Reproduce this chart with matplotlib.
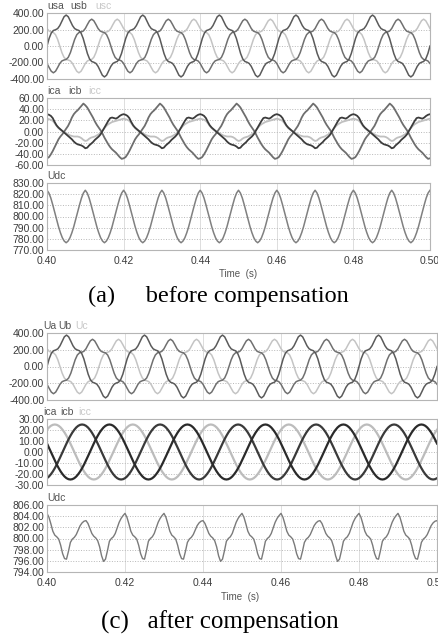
import numpy as np
import matplotlib.pyplot as plt
from matplotlib.ticker import FormatStrFormatter

plt.rcParams['font.family'] = ['Liberation Sans', 'DejaVu Sans']

#------------------------------data------------------------------

# grid voltages, one 20 ms period sampled every 20/36 ms starting at t = 0.40 s
usa_cycle = [0, 92, 157, 188, 197, 211, 247, 302, 354, 375, 354, 302, 247, 211, 197, 188, 157, 92,
             0, -92, -157, -188, -197, -211, -247, -302, -354, -375, -354, -302, -247, -211, -197, -188, -157, -92]
usb_cycle = [-212, -261, -306, -325, -306, -261, -212, -181, -170, -163, -137, -80,
             0, 80, 137, 163, 170, 181, 212, 261, 306, 325, 306, 261, 212, 181, 170, 163, 137, 80,
             0, -80, -137, -163, -170, -181]
usc_cycle = [212, 181, 170, 163, 137, 80, 0, -80, -137, -163, -170, -181, -212, -261, -306, -325, -306, -261,
             -212, -181, -170, -163, -137, -80, 0, 80, 137, 163, 170, 181, 212, 261, 306, 325, 306, 261]

# (a) currents, one 20 ms period every 0.5 ms
ica_a_cycle = [-48, -46, -41, -35, -28, -21, -14, -9, -5, 0, 5, 10, 17, 25, 31, 35, 38, 42, 46, 50,
               47, 43, 37, 31, 25, 18, 12, 7, 2, -4, -11, -17, -23, -28, -32, -35, -38, -42, -46, -49]
icb_a_cycle = [31, 30, 28, 24, 17, 11, 7, 4, 1, -2, -5, -8, -11, -14, -18, -21, -23, -24, -25, -27,
               -30, -29, -25, -22, -19, -15, -12, -9, -5, 1, 7, 13, 19, 24, 25, 24, 23, 25, 28, 30]
icc_a_cycle = [23, 22, 21, 19, 15, 10, 6, 3, 1, -1, -3, -5, -7, -8, -9, -9, -9, -10, -12, -15,
               -17, -16, -13, -11, -10, -9, -7, -5, -2, 2, 6, 10, 13, 15, 17, 18, 19, 20, 21, 22]

# (a) dc link, one 10 ms ripple cycle every 0.5 ms (starts at a peak)
udc_a_cycle = [823.5, 821.0, 816.5, 810.5, 804.0, 797.5, 791.0, 785.5, 781.0, 778.0,
               776.5, 778.0, 781.0, 785.5, 791.0, 797.5, 804.0, 810.5, 816.5, 821.0]

# (c) currents, one 20 ms period every 0.5 ms
ica_c_cycle = [-23.8, -22.3, -20.2, -17.7, -14.7, -11.4, -7.7, -3.9, 0, 3.9, 7.7, 11.4, 14.7, 17.7, 20.2,
               22.3, 23.8, 24.7, 25, 24.7, 23.8, 22.3, 20.2, 17.7, 14.7, 11.4, 7.7, 3.9, 0, -3.9, -7.7,
               -11.4, -14.7, -17.7, -20.2, -22.3, -23.8, -24.7, -25, -24.7]
icb_c_cycle = [7.7, 3.9, 0, -3.9, -7.7, -11.4, -14.7, -17.7, -20.2, -22.3, -23.8, -24.7, -25, -24.7,
               -23.8, -22.3, -20.2, -17.7, -14.7, -11.4, -7.7, -3.9, 0, 3.9, 7.7, 11.4, 14.7, 17.7, 20.2,
               22.3, 23.8, 24.7, 25, 24.7, 23.8, 22.3, 20.2, 17.7, 14.7, 11.4]
icc_c_cycle = [20.2, 22.3, 23.8, 24.7, 25, 24.7, 23.8, 22.3, 20.2, 17.7, 14.7, 11.4, 7.7, 3.9, 0, -3.9,
               -7.7, -11.4, -14.7, -17.7, -20.2, -22.3, -23.8, -24.7, -25, -24.7, -23.8, -22.3, -20.2,
               -17.7, -14.7, -11.4, -7.7, -3.9, 0, 3.9, 7.7, 11.4, 14.7, 17.7]

# (c) dc link, trough-to-trough cycles every 0.5 ms, tall (T) or short (S) peak
udc_c_tall = [796.3, 797.8, 799.5, 800.0, 800.3, 800.9, 801.9, 802.9, 803.6, 804.1,
              804.5, 803.8, 802.6, 801.3, 800.6, 800.3, 799.9, 798.8, 797.3, 796.4]
udc_c_short = [796.3, 797.7, 799.3, 799.9, 800.2, 800.7, 801.5, 802.3, 802.8, 803.1,
               803.2, 802.7, 801.8, 800.9, 800.4, 800.1, 799.6, 798.5, 796.9, 795.9]
udc_c_order = "TSTTSTTSTTS"    # peaks at 0.40, 0.41, ... 0.50

time_ticks = [0.40, 0.42, 0.44, 0.46, 0.48, 0.50]


#------------------------------build the time series------------------------------

def periodic(cycle, period, n):
    vals = np.append(np.tile(cycle, n), cycle[0])
    t = 0.40 + np.arange(len(vals)) * period / len(cycle)
    return t, vals

udc_c = []
for ch in udc_c_order:
    udc_c += udc_c_tall if ch == 'T' else udc_c_short
udc_c.append(udc_c_tall[0])
t_udc_c = 0.395 + np.arange(len(udc_c)) * 0.0005


#------------------------------plotting------------------------------

fig = plt.figure(figsize=(4.39, 6.37), dpi=100)
H = 637.0
W = 439.0

def make_ax(x0, x1, y0, y1):
    return fig.add_axes([x0 / W, 1 - y1 / H, (x1 - x0) / W, (y1 - y0) / H])

def style(ax, yticks, xlabels=False):
    ax.set_xlim(0.40, 0.50)
    ax.set_ylim(yticks[0], yticks[-1])
    ax.set_yticks(yticks)
    ax.set_xticks(time_ticks)
    ax.yaxis.set_major_formatter(FormatStrFormatter('%.2f'))
    ax.xaxis.set_major_formatter(FormatStrFormatter('%.2f'))
    ax.tick_params(length=0, labelsize=7.5, labelcolor='#3c3c3c', pad=2)
    ax.tick_params(axis='x', pad=4)
    if not xlabels:
        ax.tick_params(labelbottom=False)
    ax.grid(axis='y', ls=':', color='#b8b8b8', lw=0.7)
    ax.grid(axis='x', ls='-', color='#d8d8d8', lw=0.6)
    ax.set_axisbelow(True)
    for s in ax.spines.values():
        s.set_color('#b5b5b5')
        s.set_linewidth(0.8)

def names(ax, labels, colors, offsets):
    for lab, c, dx in zip(labels, colors, offsets):
        ax.annotate(lab, xy=(0, 1), xycoords='axes fraction', xytext=(dx, 2),
                    textcoords='offset pixels', fontsize=7.5, color=c, va='bottom', ha='left')

dark = '#555555'
light = '#c8c8c8'

for top, right, volt_names, cur_names, cur_offs, volt_offs in [
        (0, 430, ['usa', 'usb', 'usc'], ['ica', 'icb', 'icc'], [0, 21, 41], [0, 23, 48]),
        (320, 437, ['Ua', 'Ub', 'Uc'], ['ica', 'icb', 'icc'], [-4, 13, 31], [-4, 11, 28])]:

    # voltages
    ax = make_ax(47, right, top + 13, top + 79 if top == 0 else top + 80)
    for cyc, col in [(usc_cycle, '#c4c4c4'), (usb_cycle, '#707070'), (usa_cycle, '#5a5a5a')]:
        t, v = periodic(cyc, 0.02, 5)
        ax.plot(t, v, color=col, lw=1.1)
    style(ax, [-400, -200, 0, 200, 400])
    names(ax, volt_names, [dark, dark, light], volt_offs)

    # currents
    if top == 0:
        ax = make_ax(47, right, 98, 165)
        for cyc, col in [(icc_a_cycle, '#c0c0c0'), (ica_a_cycle, '#6e6e6e'), (icb_a_cycle, '#3c3c3c')]:
            t, v = periodic(cyc, 0.02, 5)
            ax.plot(t, v, color=col, lw=1.3)
        style(ax, [-60, -40, -20, 0, 20, 40, 60])
    else:
        ax = make_ax(47, right, 419, 485)
        for cyc, col in [(icc_c_cycle, '#bcbcbc'), (ica_c_cycle, '#3a3a3a'), (icb_c_cycle, '#2a2a2a')]:
            t, v = periodic(cyc, 0.02, 5)
            ax.plot(t, v, color=col, lw=1.6)
        style(ax, [-30, -20, -10, 0, 10, 20, 30])
    names(ax, cur_names, [dark, dark, light], cur_offs)

    # dc link
    if top == 0:
        ax = make_ax(47, right, 183, 250)
        t, v = periodic(udc_a_cycle, 0.01, 10)
        ax.plot(t, v, color='#808080', lw=1.1)
        style(ax, [770, 780, 790, 800, 810, 820, 830], xlabels=True)
        names(ax, ['Udc'], [dark], [0])
        fig.text(238 / W, 1 - 274 / H, 'Time  (s)', fontsize=7, color='#555555', ha='center', va='center')
        fig.text(218 / W, 1 - 296 / H, '(a)     before compensation', family='Liberation Serif',
                 fontsize=17.5, ha='center', va='center')
    else:
        ax = make_ax(47, right, 505, 572)
        ax.plot(t_udc_c, udc_c, color='#7a7a7a', lw=1.0)
        style(ax, [794, 796, 798, 800, 802, 804, 806], xlabels=True)
        names(ax, ['Udc'], [dark], [0])
        fig.text(240 / W, 1 - 597 / H, 'Time  (s)', fontsize=7, color='#555555', ha='center', va='center')
        fig.text(220 / W, 1 - 622 / H, '(c)   after compensation', family='Liberation Serif',
                 fontsize=18, ha='center', va='center')

plt.savefig("out.png", dpi=100)
